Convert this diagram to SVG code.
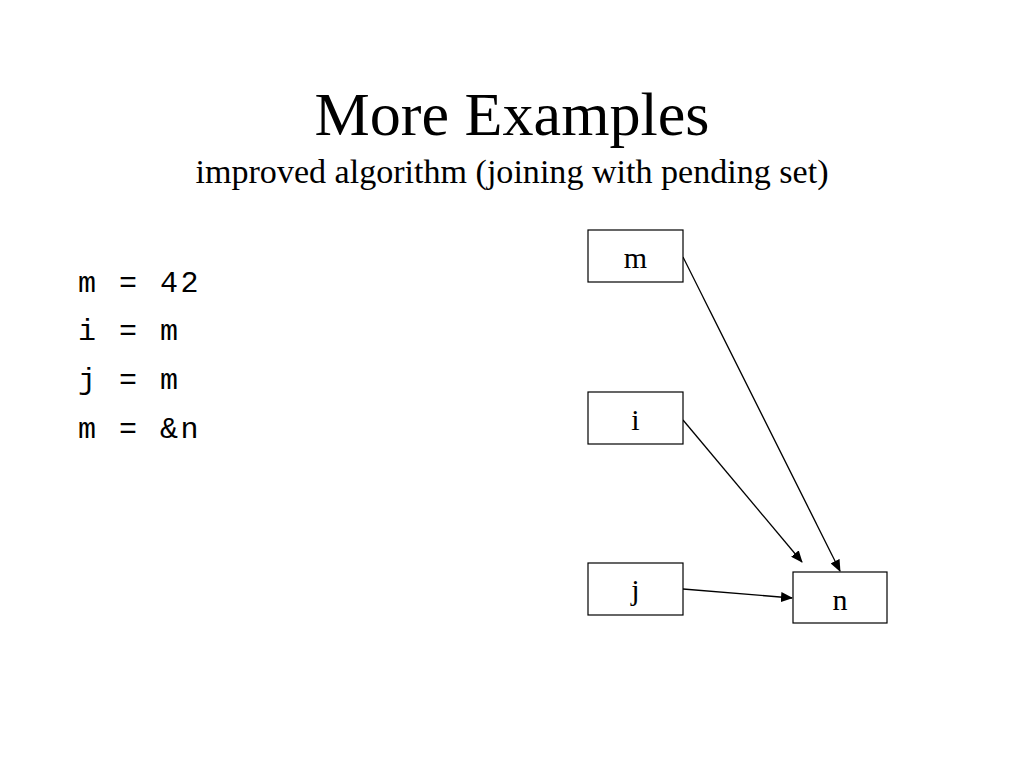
<svg xmlns="http://www.w3.org/2000/svg" width="1024" height="768" viewBox="0 0 1024 768">
<style>
.box{fill:#fff;stroke:#000;stroke-width:1.2}
.lbl{font-family:"Liberation Serif",serif;font-size:30px;text-anchor:middle;fill:#000}
.code{font-family:"Liberation Mono",monospace;font-size:30px;letter-spacing:2.5px;fill:#000;white-space:pre}
.edge{stroke:#000;stroke-width:1.3;fill:none;marker-end:url(#ah)}
</style>
<defs>
<marker id="ah" markerWidth="12" markerHeight="10" refX="11" refY="5" orient="auto" markerUnits="userSpaceOnUse">
<path d="M0,0 L12,5 L0,10 Z" fill="#000"/>
</marker>
</defs>
<rect width="1024" height="768" fill="#fff"/>
<text x="512" y="135" font-family="'Liberation Serif',serif" font-size="61" text-anchor="middle" textLength="395" lengthAdjust="spacingAndGlyphs">More Examples</text>
<text x="512" y="183" font-family="'Liberation Serif',serif" font-size="33" text-anchor="middle" textLength="633" lengthAdjust="spacingAndGlyphs">improved algorithm (joining with pending set)</text>
<g id="code">
<text class="code" x="78" y="292" xml:space="preserve">m = 42</text>
<text class="code" x="78" y="340" xml:space="preserve">i = m</text>
<text class="code" x="78" y="389" xml:space="preserve">j = m</text>
<text class="code" x="78" y="438" xml:space="preserve">m = &amp;n</text>
</g>
<g id="connectors">
<line class="edge" x1="683" y1="257" x2="840" y2="571"/>
<line class="edge" x1="683" y1="420" x2="802" y2="562"/>
<line class="edge" x1="683" y1="589" x2="792" y2="598"/>
</g>
<g id="node-m"><rect class="box" x="588" y="230" width="95" height="52"/><text class="lbl" x="635.5" y="268">m</text></g>
<g id="node-i"><rect class="box" x="588" y="392" width="95" height="52"/><text class="lbl" x="635.5" y="430">i</text></g>
<g id="node-j"><rect class="box" x="588" y="563" width="95" height="52"/><text class="lbl" x="635.5" y="600">j</text></g>
<g id="node-n"><rect class="box" x="793" y="572" width="94" height="51"/><text class="lbl" x="840" y="610">n</text></g>
</svg>
